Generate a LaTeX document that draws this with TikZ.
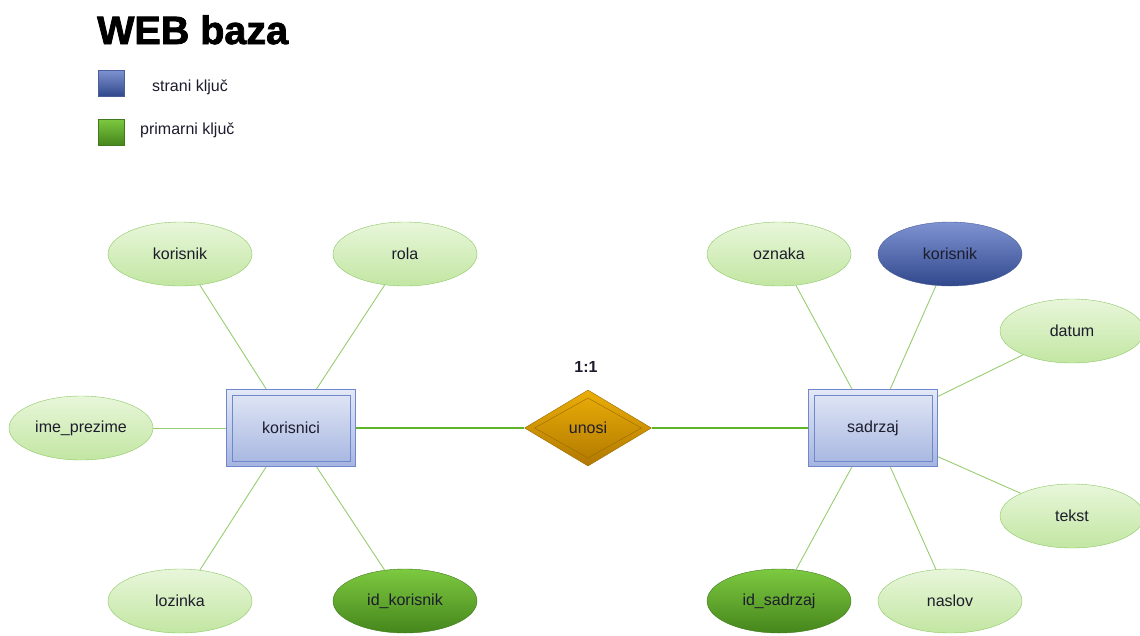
\documentclass[tikz,border=0pt]{standalone}
\usepackage{fontspec}
\setmainfont{Liberation Sans}
\newfontfamily\titlefont[FakeBold=2]{Liberation Sans Bold}
\usetikzlibrary{shapes.geometric}
\definecolor{attrtop}{HTML}{E8F6DA}
\definecolor{attrbot}{HTML}{C2E6A2}
\definecolor{attrline}{HTML}{8CC764}
\definecolor{pktop}{HTML}{7DC940}
\definecolor{pkbot}{HTML}{46861C}
\definecolor{pkline}{HTML}{3F7A1C}
\definecolor{fktop}{HTML}{7F93D2}
\definecolor{fkbot}{HTML}{30488C}
\definecolor{fkline}{HTML}{4A5F99}
\definecolor{enttop}{HTML}{E3E8F6}
\definecolor{entbot}{HTML}{A5B5E0}
\definecolor{entline}{HTML}{6F87CC}
\definecolor{reltop}{HTML}{EBAE08}
\definecolor{relbot}{HTML}{B07800}
\definecolor{relline}{HTML}{9A6A00}
\definecolor{link}{HTML}{98CC70}
\definecolor{rellink}{HTML}{5FB52A}
\definecolor{txt}{HTML}{1C1C2C}

\begin{document}
\begin{tikzpicture}[x=1pt, y=-1pt,
  every node/.style={text=txt, font=\fontsize{16}{19}\selectfont},
  attr/.style={ellipse, draw=attrline, top color=attrtop, bottom color=attrbot,
    minimum width=144pt, minimum height=64pt, inner sep=0pt},
  pkey/.style={attr, draw=pkline, top color=pktop, bottom color=pkbot},
  fkey/.style={attr, draw=fkline, top color=fktop, bottom color=fkbot},
  entity/.style={rectangle, draw=entline, line width=1pt, top color=enttop,
    bottom color=entbot, minimum width=129pt, minimum height=77pt},
  relation/.style={diamond, draw=relline, top color=reltop, bottom color=relbot,
    minimum width=127pt, minimum height=76pt, aspect=1.67, inner sep=0pt},
  legendbox/.style={rectangle, minimum size=26pt, inner sep=0pt},
  conn/.style={draw=link, line width=0.9pt},
  relconn/.style={draw=rellink, line width=1.2pt}]
  \useasboundingbox (0,0) rectangle (1140,635);
  % Title and legend
  \node[anchor=base west, inner sep=0pt, font=\titlefont\fontsize{39.5}{43}\selectfont, text=black]
    (title) at (97,44) {WEB baza};
  \node[legendbox, draw=fkline, top color=fktop, bottom color=fkbot] (fkleg) at (111,83) {};
  \node[anchor=west, inner sep=0pt] (fktext) at (152,87) {strani ključ};
  \node[legendbox, draw=pkline, top color=pktop, bottom color=pkbot] (pkleg) at (111,132) {};
  \node[anchor=west, inner sep=0pt] (pktext) at (140,130) {primarni ključ};
  % Entities and relation
  \node[entity] (korisnici) at (291,428) {korisnici};
  \node[entity] (sadrzaj) at (873,428) {sadrzaj};
  \node[relation] (unosi) at (588,428) {};
  \node[diamond, draw=relline, minimum width=107pt, minimum height=60pt, aspect=1.78,
    inner sep=0pt] (unosiin) at (unosi) {unosi};
  \draw[entline] ([shift={(6,6)}]korisnici.north west) rectangle ([shift={(-6,-6)}]korisnici.south east);
  \draw[entline] ([shift={(6,6)}]sadrzaj.north west) rectangle ([shift={(-6,-6)}]sadrzaj.south east);
  \node[font=\bfseries\fontsize{16}{19}\selectfont] (card) at (586,367) {1:1};
  % Attributes of korisnici
  \node[attr] (korisnik) at (180,254) {korisnik};
  \node[attr] (rola) at (405,254) {rola};
  \node[attr] (imeprezime) at (81,428) {ime\_prezime};
  \node[attr] (lozinka) at (180,601) {lozinka};
  \node[pkey] (idkorisnik) at (405,601) {id\_korisnik};
  % Attributes of sadrzaj
  \node[attr] (oznaka) at (779,254) {oznaka};
  \node[fkey] (skorisnik) at (950,254) {korisnik};
  \node[attr] (datum) at (1072,331) {datum};
  \node[attr] (tekst) at (1072,516) {tekst};
  \node[pkey] (idsadrzaj) at (779,601) {id\_sadrzaj};
  \node[attr] (naslov) at (950,601) {naslov};
  % Connectors
  \foreach \a in {korisnik,rola,imeprezime,lozinka,idkorisnik}
    \draw[conn] (\a) -- (korisnici);
  \foreach \a in {oznaka,skorisnik,datum,tekst,idsadrzaj,naslov}
    \draw[conn] (\a) -- (sadrzaj);
  \draw[relconn] (korisnici) -- (unosi);
  \draw[relconn] (unosi) -- (sadrzaj);
\end{tikzpicture}
\end{document}
